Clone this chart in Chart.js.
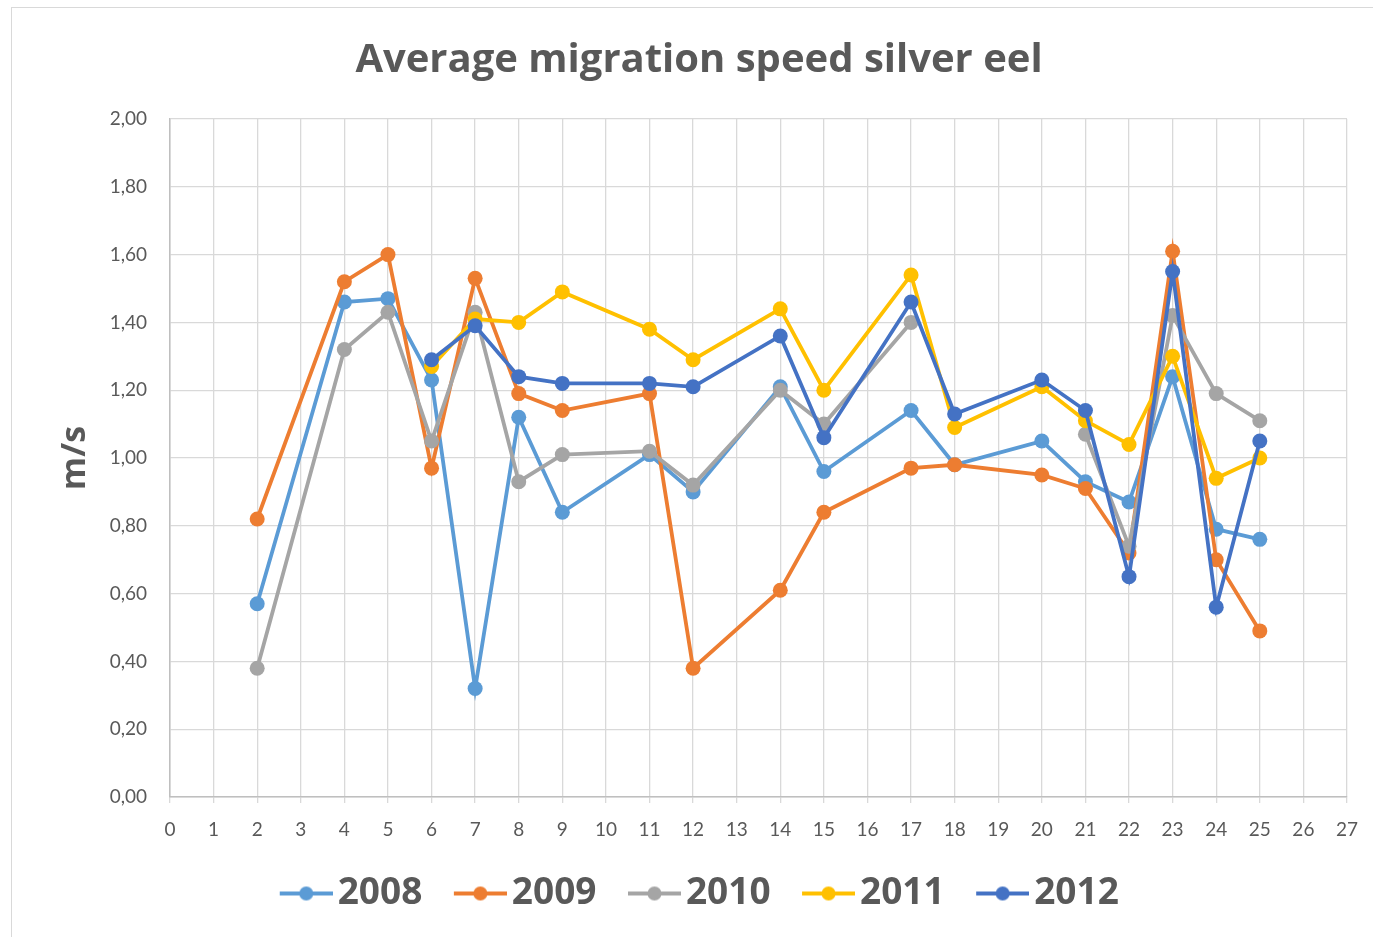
<!DOCTYPE html>
<html>
<head>
<meta charset="utf-8">
<title>Average migration speed silver eel</title>
<script src="https://cdn.jsdelivr.net/npm/chart.js@4.4.1/dist/chart.umd.min.js"></script>
<style>
  html, body { margin: 0; padding: 0; background: #fff; overflow: hidden; }
  #wrap { position: relative; width: 1373px; height: 937px; }
  #frame { position: absolute; left: 11px; top: 7px; width: 1380px; height: 960px;
           border: 1px solid #d9d9d9; box-sizing: border-box; pointer-events: none; }
</style>
</head>
<body>
<div id="wrap">
  <canvas id="eelChart" width="1373" height="937"></canvas>
  <div id="frame"></div>
</div>
<script>
// ── Data ──────────────────────────────────────────────────────────────────────
const xValues = [2, 4, 5, 6, 7, 8, 9, 11, 12, 14, 15, 17, 18, 20, 21, 22, 23, 24, 25];
const years   = ['2008', '2009', '2010', '2011', '2012'];

const speed2008 = [0.57, 1.46, 1.47, 1.23, 0.32, 1.12, 0.84, 1.01, 0.90, 1.21, 0.96, 1.14, 0.98, 1.05, 0.93, 0.87, 1.24, 0.79, 0.76];
const speed2009 = [0.82, 1.52, 1.60, 0.97, 1.53, 1.19, 1.14, 1.19, 0.38, 0.61, 0.84, 0.97, 0.98, 0.95, 0.91, 0.72, 1.61, 0.70, 0.49];
const speed2010 = [0.38, 1.32, 1.43, 1.05, 1.43, 0.93, 1.01, 1.02, 0.92, 1.20, 1.10, 1.40, null, null, 1.07, 0.74, 1.42, 1.19, 1.11];
const speed2011 = [null, null, null, 1.27, 1.41, 1.40, 1.49, 1.38, 1.29, 1.44, 1.20, 1.54, 1.09, 1.21, 1.11, 1.04, 1.30, 0.94, 1.00];
const speed2012 = [null, null, null, 1.29, 1.39, 1.24, 1.22, 1.22, 1.21, 1.36, 1.06, 1.46, 1.13, 1.23, 1.14, 0.65, 1.55, 0.56, 1.05];

const allSeries = [speed2008, speed2009, speed2010, speed2011, speed2012];
const colors    = ['#5B9BD5', '#ED7D31', '#A5A5A5', '#FFC000', '#4472C4'];

const TEXT  = '#595959';
const FONT  = "Lato, 'Open Sans', sans-serif";
const BOLD  = "'Open Sans', Lato, sans-serif";
const GRID  = '#d9d9d9';

// ── Legend symbol: short line with a dot, sitting in the right part of a wider image
// (the image is centred on the legend box, so this pulls the text closer)
function legendSymbol(color) {
  const c = document.createElement('canvas');
  c.width = 67; c.height = 18;
  const g = c.getContext('2d');
  g.strokeStyle = color; g.lineWidth = 3.8;
  g.beginPath(); g.moveTo(14, 9); g.lineTo(67, 9); g.stroke();
  g.fillStyle = color;
  g.beginPath(); g.arc(40.5, 9, 7, 0, Math.PI * 2); g.fill();
  return c;
}

const datasets = years.map((y, i) => ({
  label: y,
  data: xValues.map((x, j) => ({ x, y: allSeries[i][j] })),
  borderColor: colors[i],
  backgroundColor: colors[i],
  pointBackgroundColor: colors[i],
  pointBorderColor: colors[i],
  borderWidth: 3.8,
  pointRadius: 7.5,
  pointBorderWidth: 0,
  spanGaps: false,
  tension: 0,
  order: years.length - i,      // later years drawn on top, like Excel
  pointStyle: 'circle',
  legendImg: legendSymbol(colors[i]),
}));

const fmt = v => v.toFixed(2).replace('.', ',');

new Chart(document.getElementById('eelChart').getContext('2d'), {
  type: 'line',
  data: { datasets },
  options: {
    responsive: false,
    animation: false,
    layout: { padding: { left: 50, right: 25, top: 0, bottom: 15 } },
    scales: {
      x: {
        type: 'linear',
        min: 0, max: 27,
        ticks: { stepSize: 1, color: TEXT, font: { family: FONT, size: 19 }, padding: 15, maxRotation: 0 },
        grid: { color: GRID, lineWidth: 1.3, tickLength: 6 },
        border: { color: '#bfbfbf', width: 1.5 },
        afterFit: s => { s.height = 47; },
      },
      y: {
        min: 0, max: 2,
        ticks: { stepSize: 0.2, color: TEXT, font: { family: FONT, size: 19 }, padding: 23, callback: v => fmt(v) },
        grid: { color: GRID, lineWidth: 1.3, drawTicks: false },
        border: { color: '#bfbfbf', width: 1.5 },
        title: { display: true, text: 'm/s', color: TEXT, font: { family: BOLD, size: 34, weight: 'bold' }, padding: { top: 5, bottom: 0 } },
        afterFit: s => { s.width = 120; },
      },
    },
    plugins: {
      title: {
        display: true,
        text: 'Average migration speed silver eel',
        color: TEXT,
        font: { family: BOLD, size: 40, weight: 'bold' },
        padding: { top: 37, bottom: 34 },
      },
      legend: {
        position: 'bottom',
        labels: {
          color: TEXT,
          font: { family: BOLD, size: 37, weight: 'bold' },
          usePointStyle: true,
          pointStyleWidth: 40,
          boxHeight: 18,
          padding: 31,
          generateLabels: chart => chart.data.datasets.map((ds, i) => ({
            text: ds.label,
            fontColor: TEXT,
            pointStyle: ds.legendImg,
            datasetIndex: i,
            hidden: false,
            lineWidth: 0,
          })),
        },
      },
      tooltip: { enabled: false },
    },
  },
});
</script>
</body>
</html>
